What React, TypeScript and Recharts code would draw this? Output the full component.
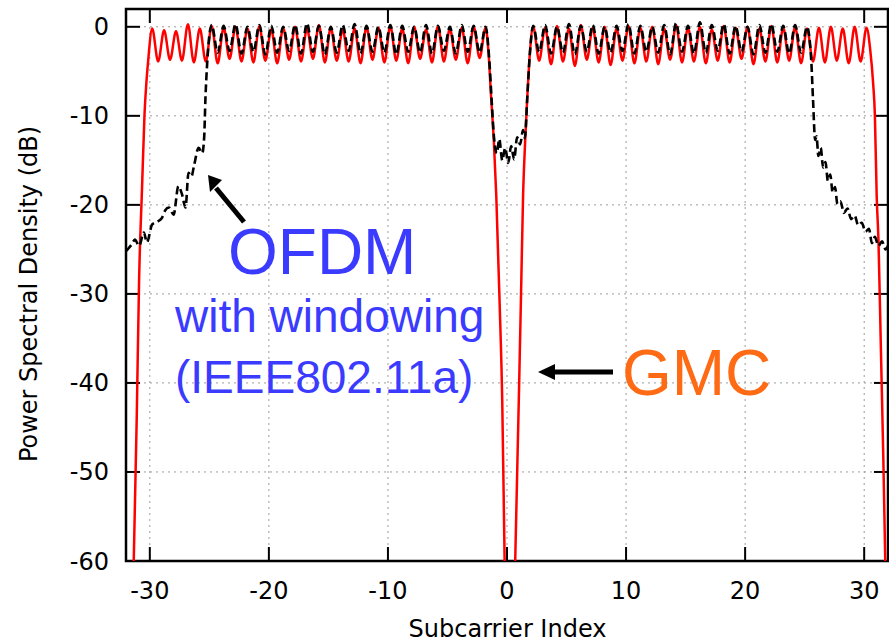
import React from 'react';
import { LineChart, Line, XAxis, YAxis, CartesianGrid, ReferenceLine, ReferenceArea } from 'recharts';

type Pt = [number, number];

const W = 889;
const H = 643;

const xTicks = [-30, -20, -10, 0, 10, 20, 30];
const yTicks = [0, -10, -20, -30, -40, -50, -60];
const xDomain: [number, number] = [-32, 32];
const yDomain: [number, number] = [-60, 2];

// GMC (red, solid)
const gmcEdgeLeft: Pt[] = [
  [-31.6, -80], [-31.35, -60], [-31.1, -44], [-30.9, -28.4], [-30.65, -18], [-30.45, -10],
  [-30.3, -6.5], [-30.15, -4],
];
const gmcBandLeft: Pt[] = [
  [-29.8, -0.2], [-29.3, -3.9], [-28.8, -0.4], [-28.3, -3.7], [-27.8, -0.5], [-27.3, -3.8],
  [-26.8, 0.3], [-26.3, -4.0], [-25.8, -0.2], [-25.3, -3.9], [-24.8, 0.1], [-24.3, -4.1],
  [-23.8, -0.1], [-23.3, -3.6], [-22.8, 0.0], [-22.3, -3.9], [-21.8, -0.2], [-21.3, -4.0],
  [-20.8, 0.1], [-20.3, -3.8], [-19.8, -0.3], [-19.3, -4.1], [-18.8, -0.1], [-18.3, -3.7],
  [-17.8, 0.0], [-17.3, -3.9], [-16.8, -0.2], [-16.3, -3.6], [-15.8, 0.2], [-15.3, -4.0],
  [-14.8, -0.1], [-14.3, -3.8], [-13.8, -0.3], [-13.3, -3.9], [-12.8, -0.2], [-12.3, -4.1],
  [-11.8, 0.0], [-11.3, -3.7], [-10.8, -0.1], [-10.3, -4.0], [-9.8, 0.1], [-9.3, -3.8],
  [-8.8, -0.2], [-8.3, -4.1], [-7.8, 0.0], [-7.3, -3.6], [-6.8, -0.3], [-6.3, -4.0],
  [-5.8, 0.1], [-5.3, -3.9], [-4.8, -0.2], [-4.3, -3.7], [-3.8, -0.1], [-3.3, -4.1],
  [-2.8, 0.0], [-2.3, -3.5], [-1.8, -0.1],
];
const gmcNotch: Pt[] = [
  [-1.55, -3], [-1.33, -8], [-1.1, -13], [-0.9, -19], [-0.62, -31], [-0.4, -42], [-0.2, -60],
  [0.25, -90],
  [0.69, -60], [0.99, -42], [1.18, -30], [1.35, -19], [1.52, -13], [1.7, -8], [1.92, -3],
];
const gmcBandRight: Pt[] = [
  [2.2, 0.0], [2.7, -3.8], [3.2, -0.1], [3.7, -4.2], [4.2, 0.1], [4.7, -3.9], [5.2, -0.2],
  [5.7, -4.4], [6.2, 0.2], [6.7, -3.7], [7.2, -0.1], [7.7, -4.0], [8.2, 0.0], [8.7, -4.3],
  [9.2, -0.2], [9.7, -3.8], [10.2, 0.1], [10.7, -4.1], [11.2, -0.1], [11.7, -3.9], [12.2, 0.0],
  [12.7, -4.2], [13.2, -0.2], [13.7, -3.7], [14.2, 0.2], [14.7, -4.0], [15.2, -0.1], [15.7, -3.9],
  [16.2, 0.0], [16.7, -4.1], [17.2, -0.3], [17.7, -3.8], [18.2, 0.1], [18.7, -4.0], [19.2, -0.1],
  [19.7, -3.6], [20.2, 0.0], [20.7, -4.2], [21.2, -0.2], [21.7, -3.9], [22.2, 0.1], [22.7, -4.0],
  [23.2, -0.1], [23.7, -3.8], [24.2, 0.0], [24.7, -4.1], [25.2, -0.2], [25.7, -3.9], [26.2, -0.1],
  [26.7, -4.0], [27.2, 0.0], [27.7, -3.8], [28.2, -0.2], [28.7, -4.1], [29.2, 0.0], [29.7, -3.9],
  [30.2, -0.1],
];
const gmcEdgeRight: Pt[] = [
  [30.5, -2.5], [30.75, -6.3], [30.9, -10], [31.05, -19], [31.2, -24], [31.4, -36], [31.6, -48],
  [31.77, -60], [31.95, -72],
];

// OFDM with windowing (black, dashed)
const ofdmEdgeLeft: Pt[] = [
  [-32.0, -25.2], [-31.8, -24.9], [-31.5, -24.4], [-31.25, -23.9], [-30.9, -24.6], [-30.5, -23.1],
  [-30.25, -24.2], [-29.8, -22.2], [-29.4, -21.9], [-29.0, -21.5], [-28.7, -20.6], [-28.4, -20.3],
  [-28.0, -21.1], [-27.6, -17.9], [-27.3, -18.8], [-27.0, -20.3], [-26.75, -16.4], [-26.5, -16.8],
  [-26.3, -15.7], [-25.9, -13.6], [-25.6, -14.2], [-25.43, -12.3], [-25.33, -8.1], [-25.2, -4.5],
];
const ofdmBandLeft: Pt[] = [
  [-24.8, 0.2], [-24.3, -2.9], [-23.8, 0.1], [-23.3, -2.7], [-22.8, 0.3], [-22.3, -3.0],
  [-21.8, 0.0], [-21.3, -2.8], [-20.8, 0.2], [-20.3, -3.1], [-19.8, 0.1], [-19.3, -2.9],
  [-18.8, 0.0], [-18.3, -2.7], [-17.8, 0.2], [-17.3, -3.0], [-16.8, 0.4], [-16.3, -2.8],
  [-15.8, 0.1], [-15.3, -3.1], [-14.8, 0.0], [-14.3, -2.9], [-13.8, 0.2], [-13.3, -2.7],
  [-12.8, 0.3], [-12.3, -3.0], [-11.8, 0.1], [-11.3, -2.8], [-10.8, 0.0], [-10.3, -2.9],
  [-9.8, 0.2], [-9.3, -3.1], [-8.8, 0.1], [-8.3, -2.8], [-7.8, 0.0], [-7.3, -2.9],
  [-6.8, 0.2], [-6.3, -3.0], [-5.8, 0.1], [-5.3, -2.7], [-4.8, 0.0], [-4.3, -3.0],
  [-3.8, 0.2], [-3.3, -2.8], [-2.8, 0.1], [-2.3, -2.9], [-1.8, 0.0],
];
const ofdmNotch: Pt[] = [
  [-1.5, -3.5], [-1.3, -8], [-1.1, -12.3], [-0.85, -14.2], [-0.65, -12.6], [-0.4, -15.0],
  [-0.15, -13.6], [0.1, -15.3], [0.35, -13.4], [0.6, -14.9], [0.85, -12.4], [1.1, -13.2],
  [1.35, -11.6], [1.5, -12.5], [1.7, -8], [1.92, -3],
];
const ofdmBandRight: Pt[] = [
  [2.2, 0.1], [2.7, -2.8], [3.2, 0.2], [3.7, -3.0], [4.2, 0.0], [4.7, -2.9], [5.2, 0.3],
  [5.7, -3.1], [6.2, 0.1], [6.7, -2.8], [7.2, 0.2], [7.7, -3.0], [8.2, 0.0], [8.7, -2.9],
  [9.2, 0.1], [9.7, -2.7], [10.2, 0.3], [10.7, -3.0], [11.2, 0.1], [11.7, -2.8], [12.2, 0.0],
  [12.7, -2.9], [13.2, 0.2], [13.7, -3.1], [14.2, 0.4], [14.7, -2.8], [15.2, 0.1], [15.7, -3.0],
  [16.2, 0.5], [16.7, -2.9], [17.2, 0.2], [17.7, -2.7], [18.2, 0.3], [18.7, -3.0], [19.2, 0.1],
  [19.7, -2.8], [20.2, 0.0], [20.7, -3.1], [21.2, 0.2], [21.7, -2.9], [22.2, 0.3], [22.7, -2.8],
  [23.2, 0.1], [23.7, -3.0], [24.2, 0.2], [24.7, -2.9], [25.2, 0.0],
];
const ofdmEdgeRight: Pt[] = [
  [25.55, -3.7], [25.7, -8.1], [25.88, -12.7], [26.0, -12.3], [26.15, -14.5], [26.35, -13.6],
  [26.55, -15.8], [26.75, -15.2], [26.95, -17.3], [27.15, -16.6], [27.35, -18.6], [27.55, -18.0],
  [27.75, -19.9], [28.0, -19.6], [28.3, -20.9], [28.6, -20.4], [28.9, -21.6], [29.2, -21.2],
  [29.5, -22.3], [29.8, -22.0], [30.1, -23.0], [30.4, -22.7], [30.65, -24.3], [30.9, -23.6],
  [31.2, -24.6], [31.5, -24.1], [31.8, -25.0], [32.0, -24.6],
];

const toRows = (pts: Pt[]) => pts.map(([f, db]) => ({ f, db }));
const gmc = toRows([...gmcEdgeLeft, ...gmcBandLeft, ...gmcNotch, ...gmcBandRight, ...gmcEdgeRight]);
const ofdm = toRows([...ofdmEdgeLeft, ...ofdmBandLeft, ...ofdmNotch, ...ofdmBandRight, ...ofdmEdgeRight]);

// inward tick length, in data units (about 14px)
const TX = 1.18;
const TY = 1.57;

const tickFont = { fill: '#000', fontSize: 24, fontFamily: 'DejaVu Sans' };

export default function App() {
  return (
    <div style={{ position: 'absolute', left: 0, top: 0, width: W, height: H, background: '#fff' }}>
      <LineChart width={W} height={H} margin={{ top: 9, right: 1, bottom: 0, left: 0 }}>
        <CartesianGrid stroke="#9c9c9c" strokeDasharray="2 4" strokeWidth={1} />
        <XAxis
          dataKey="f"
          type="number"
          domain={xDomain}
          ticks={xTicks}
          interval={0}
          allowDataOverflow
          height={82}
          axisLine={false}
          tickLine={false}
          tickSize={0}
          tickMargin={21}
          tick={tickFont}
        />
        <YAxis
          type="number"
          domain={yDomain}
          ticks={yTicks}
          interval={0}
          allowDataOverflow
          width={126}
          axisLine={false}
          tickLine={false}
          tickSize={0}
          tickMargin={17}
          tick={tickFont}
        />
        {yTicks.map((v) => (
          <ReferenceLine key={`yl${v}`} segment={[{ x: -32, y: v }, { x: -32 + TX, y: v }]} stroke="#000" strokeWidth={2} />
        ))}
        {yTicks.map((v) => (
          <ReferenceLine key={`yr${v}`} segment={[{ x: 32 - TX, y: v }, { x: 32, y: v }]} stroke="#000" strokeWidth={2} />
        ))}
        {xTicks.map((v) => (
          <ReferenceLine key={`xb${v}`} segment={[{ x: v, y: -60 }, { x: v, y: -60 + TY }]} stroke="#000" strokeWidth={2} />
        ))}
        {xTicks.map((v) => (
          <ReferenceLine key={`xt${v}`} segment={[{ x: v, y: 2 }, { x: v, y: 2 - TY }]} stroke="#000" strokeWidth={2} />
        ))}
        <Line
          data={gmc}
          dataKey="db"
          type="monotone"
          stroke="#ff0000"
          strokeWidth={2.5}
          dot={false}
          isAnimationActive={false}
        />
        <Line
          data={ofdm}
          dataKey="db"
          type="monotone"
          stroke="#000"
          strokeWidth={2.6}
          strokeDasharray="8 4"
          dot={false}
          isAnimationActive={false}
        />
        <ReferenceArea x1={-32} x2={32} y1={-60} y2={2} fill="none" stroke="#000" strokeWidth={2.5} ifOverflow="visible" />
      </LineChart>

      <svg width={W} height={H} style={{ position: 'absolute', left: 0, top: 0, pointerEvents: 'none' }}>
        <text x={507.5} y={637} textAnchor="middle" fontFamily="DejaVu Sans" fontSize={24} fill="#000">
          Subcarrier Index
        </text>
        <text
          transform="translate(37,294) rotate(-90)"
          textAnchor="middle"
          fontFamily="DejaVu Sans"
          fontSize={24}
          fill="#000"
        >
          Power Spectral Density (dB)
        </text>

        {/* OFDM annotation */}
        <line x1={244} y1={222} x2={216} y2={188} stroke="#000" strokeWidth={5} />
        <polygon points="208,175 222,180 210,192" fill="#000" />
        <text x={228} y={274} fontFamily="Liberation Sans" fontSize={64} fill="#3b3bff">OFDM</text>
        <text x={175} y={332} fontFamily="Liberation Sans" fontSize={46} fill="#3b3bff">with windowing</text>
        <text x={175} y={393} fontFamily="Liberation Sans" fontSize={46} fill="#3b3bff">(IEEE802.11a)</text>

        {/* GMC annotation */}
        <line x1={613} y1={372} x2={552} y2={372} stroke="#000" strokeWidth={5} />
        <polygon points="538,372 555,364 555,380" fill="#000" />
        <text x={622} y={395} fontFamily="Liberation Sans" fontSize={64} fill="#ff6a14">GMC</text>
      </svg>
    </div>
  );
}
